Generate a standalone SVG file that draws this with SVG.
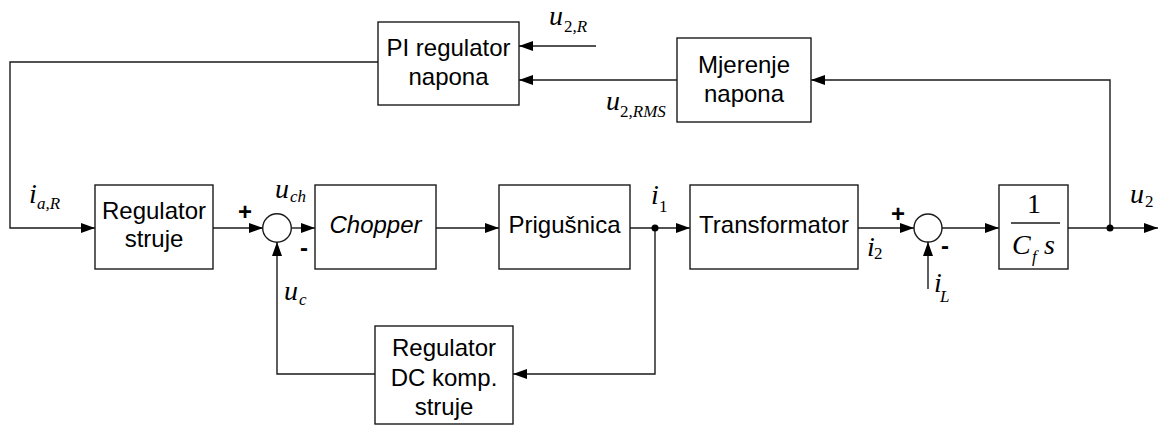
<svg xmlns="http://www.w3.org/2000/svg" width="1162" height="426" viewBox="0 0 1162 426">
<defs>
<style>
.box{fill:#fff;stroke:#1a1a1a;stroke-width:1.4}
.ln{fill:none;stroke:#1a1a1a;stroke-width:1.4}
.t{font-family:"Liberation Sans",Arial,sans-serif;font-size:24px;fill:#000;text-anchor:middle}
.m{font-family:"Liberation Serif","Times New Roman",serif;font-style:italic;font-size:28px;fill:#000}
.s{font-family:"Liberation Serif","Times New Roman",serif;font-style:italic;font-size:17px;fill:#000}
.sr{font-style:normal}
.sg{font-family:"Liberation Sans",Arial,sans-serif;font-weight:bold;font-size:24px;fill:#000;text-anchor:middle}
</style>
<marker id="ah" markerUnits="userSpaceOnUse" markerWidth="14" markerHeight="10" refX="14" refY="5" orient="auto">
<path d="M0,0 L14,5 L0,10 z" fill="#000"/>
</marker>
</defs>
<rect width="1162" height="426" fill="#fff"/>

<g id="connectors">
<polyline class="ln" points="378,62 10,62 10,228 95,228" marker-end="url(#ah)"/>
<line class="ln" x1="213" y1="228" x2="263" y2="228" marker-end="url(#ah)"/>
<line class="ln" x1="291.5" y1="228" x2="315" y2="228" marker-end="url(#ah)"/>
<line class="ln" x1="436" y1="228" x2="499" y2="228" marker-end="url(#ah)"/>
<line class="ln" x1="630" y1="228" x2="690" y2="228" marker-end="url(#ah)"/>
<polyline class="ln" points="655,228 655,374 513,374" marker-end="url(#ah)"/>
<polyline class="ln" points="375,374 277,374 277,242" marker-end="url(#ah)"/>
<line class="ln" x1="858" y1="228" x2="914" y2="228" marker-end="url(#ah)"/>
<line class="ln" x1="942" y1="228" x2="999" y2="228" marker-end="url(#ah)"/>
<line class="ln" x1="1068" y1="228" x2="1158" y2="228" marker-end="url(#ah)"/>
<polyline class="ln" points="1110,228 1110,80 811,80" marker-end="url(#ah)"/>
<line class="ln" x1="677" y1="80" x2="519" y2="80" marker-end="url(#ah)"/>
<line class="ln" x1="596" y1="46" x2="519" y2="46" marker-end="url(#ah)"/>
<line class="ln" x1="928" y1="289" x2="928" y2="242" marker-end="url(#ah)"/>
<circle cx="655" cy="228" r="3.5" fill="#000"/>
<circle cx="1110" cy="228" r="3.5" fill="#000"/>
</g>

<g id="pi-regulator">
<rect class="box" x="378" y="22" width="141" height="83"/>
<text class="t" x="448.5" y="56">PI regulator</text>
<text class="t" x="448.5" y="85">napona</text>
</g>

<g id="mjerenje">
<rect class="box" x="677" y="38" width="134" height="84"/>
<text class="t" x="744" y="72.5">Mjerenje</text>
<text class="t" x="744" y="101.5">napona</text>
</g>

<g id="regulator-struje">
<rect class="box" x="95" y="185" width="118" height="84"/>
<text class="t" x="154" y="219">Regulator</text>
<text class="t" x="154" y="247">struje</text>
</g>

<g id="sum1">
<circle class="box" cx="277" cy="228" r="14.3"/>
</g>

<g id="chopper">
<rect class="box" x="315" y="185" width="121" height="84"/>
<text class="t" x="375.5" y="233" font-style="italic">Chopper</text>
</g>

<g id="prigusnica">
<rect class="box" x="499" y="185" width="131" height="84"/>
<text class="t" x="564.5" y="233">Prigušnica</text>
</g>

<g id="transformator">
<rect class="box" x="690" y="185" width="168" height="84"/>
<text class="t" x="774" y="233">Transformator</text>
</g>

<g id="sum2">
<circle class="box" cx="928" cy="228" r="14"/>
</g>

<g id="integrator">
<rect class="box" x="999" y="185" width="69" height="84"/>
<text x="1034" y="213" style="font-family:'Liberation Serif','Times New Roman',serif;font-size:28px;text-anchor:middle">1</text>
<line class="ln" x1="1011" y1="223" x2="1060" y2="223"/>
<text class="m" x="1012" y="254">C</text>
<text class="s" x="1032" y="262">f</text>
<text class="m" x="1044" y="254">s</text>
</g>

<g id="dc-regulator">
<rect class="box" x="375" y="326" width="138" height="98"/>
<text class="t" x="444" y="356">Regulator</text>
<text class="t" x="444" y="386">DC komp.</text>
<text class="t" x="444" y="415">struje</text>
</g>

<g id="labels">
<text class="m" x="549" y="25">u</text><text class="s" x="564" y="32"><tspan class="sr">2</tspan>,R</text>
<text class="m" x="606" y="110">u</text><text class="s" x="620" y="117"><tspan class="sr">2</tspan>,RMS</text>
<text class="m" x="29" y="203">i</text><text class="s" x="37" y="209">a,R</text>
<text class="m" x="275" y="198">u</text><text class="s" x="290" y="202">ch</text>
<text class="m" x="284" y="300">u</text><text class="s" x="299" y="305">c</text>
<text class="m" x="651" y="204">i</text><text class="s sr" x="659" y="212">1</text>
<text class="m" x="867" y="256">i</text><text class="s sr" x="874" y="259">2</text>
<text class="m" x="934" y="292">i</text><text class="s" x="940" y="302">L</text>
<text class="m" x="1130" y="203">u</text><text class="s sr" x="1145" y="207">2</text>
<text class="sg" x="245" y="220">+</text>
<text class="sg" x="304" y="256">-</text>
<text class="sg" x="898" y="222">+</text>
<text class="sg" x="945" y="254">-</text>
</g>
</svg>
